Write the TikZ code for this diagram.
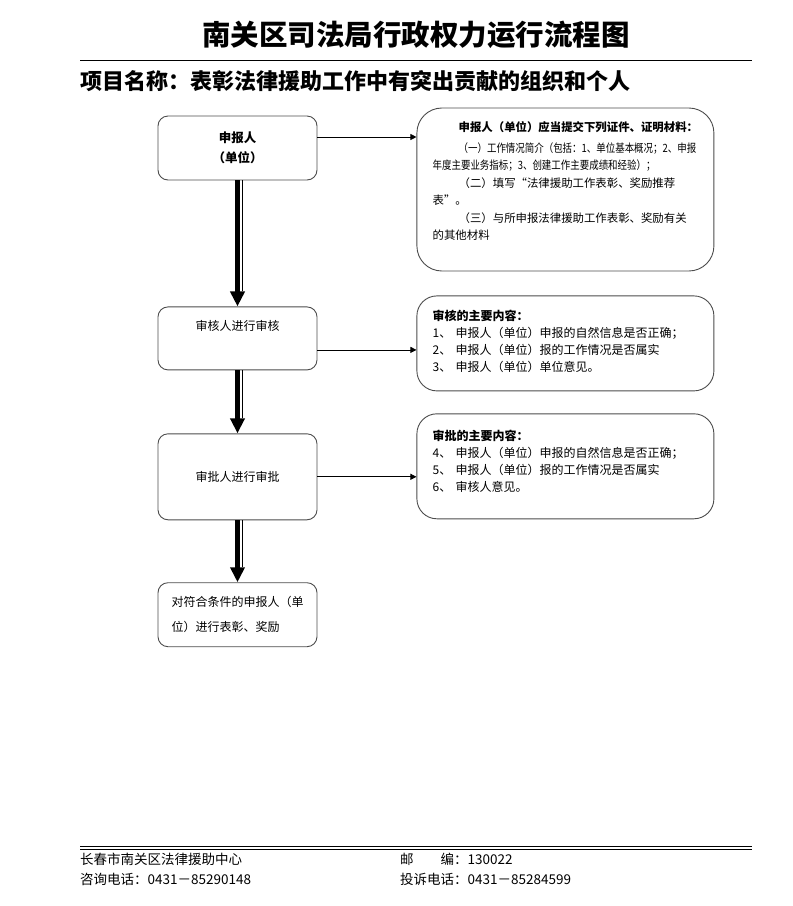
\documentclass[tikz,border=0pt]{standalone}
\usepackage{fontspec}
\setmainfont{Noto Sans CJK SC}
\usepackage{graphicx}
\usetikzlibrary{arrows.meta,positioning}

\newcommand{\squeeze}[2]{\scalebox{#1}[1]{#2}}

\begin{document}
\begin{tikzpicture}[x=1pt,y=-1pt,
  thick arrow/.style={-{Triangle[length=15pt,width=14pt]},line width=4.5pt},
  thin arrow/.style={-{Triangle[length=6pt,width=6pt]},line width=0.8pt},
  step node/.style={rectangle,rounded corners=10pt,draw=black!70,line width=0.9pt,
    minimum width=159pt,font=\fontsize{12}{20}\selectfont,align=center},
  info node/.style={rectangle,draw=black!70,line width=0.9pt,minimum width=297pt},
  info text/.style={anchor=north west,align=left,inner sep=0pt,
    font=\fontsize{11.4}{17.5}\selectfont}]

  \useasboundingbox (0,0) rectangle (793,906);

  % heading
  \node[font=\bfseries\fontsize{28.5}{30}\selectfont] (title) at (416,35)
    {南关区司法局行政权力运行流程图};
  \draw[line width=1pt] (80,60) -- (752,60);
  \node[anchor=west,inner sep=0pt,font=\bfseries\fontsize{22}{24}\selectfont] (project)
    at (80,81) {项目名称：表彰法律援助工作中有突出贡献的组织和个人};

  % left column
  \node[step node,minimum height=64pt,font=\bfseries\fontsize{12.5}{20}\selectfont]
    (A) at (237.5,148) {申报人\\（单位）};
  \node[step node,minimum height=63pt] (C) [below=126pt of A] {审核人进行审核\\\strut};
  \node[step node,minimum height=86pt] (E) [below=63pt of C] {审批人进行审批};
  \node[step node,minimum height=64pt,align=left,font=\fontsize{12}{25}\selectfont]
    (G) [below=62pt of E] {对符合条件的申报人（单\\位）进行表彰、奖励};

  % right column
  \node[info node,minimum height=163pt,rounded corners=25pt,
    right=99pt of A.north east,anchor=north west,yshift=8pt] (B) {};
  \node[info node,minimum height=95pt,rounded corners=20pt,
    right=99pt of C.north east,anchor=north west,yshift=11pt] (D) {};
  \node[info node,minimum height=105pt,rounded corners=20pt,
    right=99pt of E.north east,anchor=north west,yshift=20pt] (F) {};

  \node[info text] (Btext) at ([xshift=16pt,yshift=-14pt]B.north west)
    {\hspace*{26pt}\textbf{申报人（单位）应当提交下列证件、证明材料：}\\[3pt]
     \hspace*{26pt}\squeeze{0.83}{（一）工作情况简介（包括：1、单位基本概况；2、申报}\\
     \squeeze{0.83}{年度主要业务指标；3、创建工作主要成绩和经验）；}\\
     \hspace*{26pt}（二）填写“法律援助工作表彰、奖励推荐\\
     表”。\\
     \hspace*{26pt}（三）与所申报法律援助工作表彰、奖励有关\\
     的其他材料};
  \node[info text,font=\fontsize{12}{17}\selectfont] (Dtext)
    at ([xshift=16pt,yshift=-14pt]D.north west)
    {\textbf{审核的主要内容：}\\
     \makebox[23pt][l]{1、}申报人（单位）申报的自然信息是否正确；\\
     \makebox[23pt][l]{2、}申报人（单位）报的工作情况是否属实\\
     \makebox[23pt][l]{3、}申报人（单位）单位意见。};
  \node[info text,font=\fontsize{12}{17}\selectfont] (Ftext)
    at ([xshift=16pt,yshift=-17pt]F.north west)
    {\textbf{审批的主要内容：}\\
     \makebox[23pt][l]{4、}申报人（单位）申报的自然信息是否正确；\\
     \makebox[23pt][l]{5、}申报人（单位）报的工作情况是否属实\\
     \makebox[23pt][l]{6、}审核人意见。};

  % arrows to the right
  \draw[thin arrow] ([yshift=11pt]A.east) -- ([yshift=11pt]A.east -| B.west);
  \draw[thin arrow] ([yshift=-11.5pt]C.east) -- ([yshift=-11.5pt]C.east -| D.west);
  \draw[thin arrow] (E.east) -- (E.east -| F.west);

  % arrows down
  \draw[thick arrow] (A.south) -- (C.north);
  \draw[line width=0.8pt] ([xshift=4.5pt]A.south) -- ([xshift=4.5pt,yshift=15pt]C.north);
  \draw[thick arrow] (C.south) -- (E.north);
  \draw[line width=0.8pt] ([xshift=4.5pt]C.south) -- ([xshift=4.5pt,yshift=15pt]E.north);
  \draw[thick arrow] (E.south) -- (G.north);
  \draw[line width=0.8pt] ([xshift=4.5pt]E.south) -- ([xshift=4.5pt,yshift=15pt]G.north);

  % footer
  \draw[line width=1.6pt] (80,846.5) -- (752,846.5);
  \draw[line width=0.6pt] (80,849.5) -- (752,849.5);
  \begin{scope}[every node/.style={anchor=west,inner sep=0pt,
      font=\fontsize{13.5}{15}\selectfont}]
    \node (center) at (80,859) {长春市南关区法律援助中心};
    \node (phone) at (80,879) {咨询电话：0431－85290148};
    \node (post) at (400,859) {邮\hspace{2em}编：130022};
    \node (complaint) at (400,879) {投诉电话：0431－85284599};
  \end{scope}
\end{tikzpicture}
\end{document}
